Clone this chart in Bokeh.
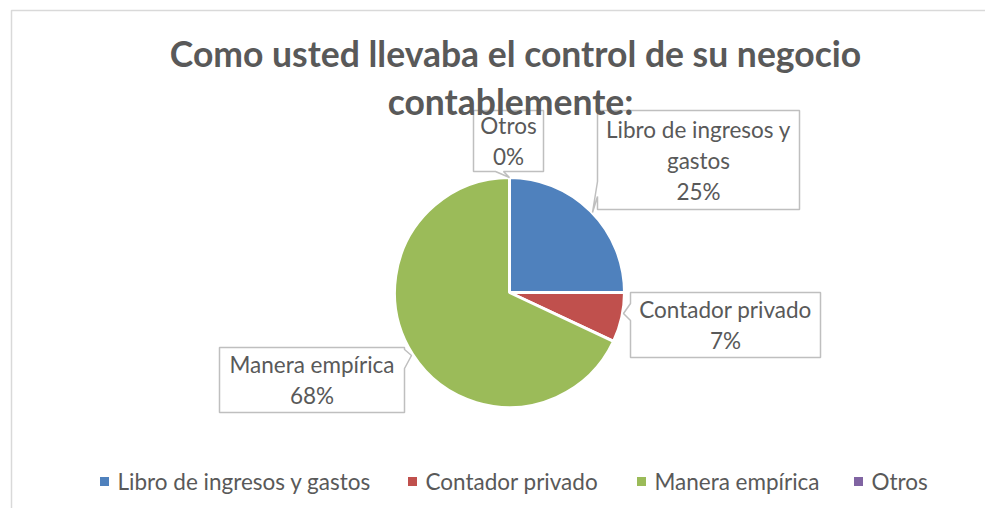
import numpy as np
from bokeh.plotting import figure
from bokeh.models import Range1d, ColumnDataSource
from bokeh.core.properties import value
from bokeh.embed import file_html
from bokeh.resources import INLINE

# ---------------- data ----------------
categories = ["Libro de ingresos y gastos", "Contador privado", "Manera empírica", "Otros"]
percent = [25, 7, 68, 0]
colors = ["#4F81BD", "#C0504D", "#9BBB59", "#8064A2"]
label_names = [["Libro de ingresos y", "gastos"], ["Contador privado"], ["Manera empírica"], ["Otros"]]
title_lines = ["Como usted llevaba el control de su negocio", "contablemente:"]

# ---------------- layout (image pixel coordinates) ----------------
W, H = 985, 508
FONT = "Lato"
TXT = "#595959"
BORDER = "#BFBFBF"

def Y(y):
    return 514 - y

p = figure(width=W, height=H, output_backend="svg", toolbar_location=None,
           x_range=Range1d(0, W), y_range=Range1d(514 - H, 514),
           min_border=0, outline_line_color=None)
p.axis.visible = False
p.grid.visible = False
p.background_fill_color = "white"
p.border_fill_color = "white"

# chart frame (left and top edges visible)
p.line([11, 11, 995], [Y(520), Y(10), Y(10)], line_color="#D9D9D9", line_width=1.5)

# pie
cx, cy, r = 509, 292, 115
frac = np.array(percent, dtype=float) / sum(percent)
cum = np.cumsum(frac)
prev = np.concatenate([[0], cum[:-1]])
start = np.pi / 2 - 2 * np.pi * prev
end = np.pi / 2 - 2 * np.pi * cum
keep = np.array(percent) > 0
src = ColumnDataSource(dict(start=start[keep], end=end[keep],
                            color=[c for c, k in zip(colors, keep) if k]))
p.wedge(x=cx, y=Y(cy), radius=r, start_angle="start", end_angle="end",
        direction="clock", fill_color="color", line_color="white",
        line_width=3, source=src)

# callout boxes: (left, top, right, bottom, pointer side, pointer polygon points)
boxes = [
    (597, 110, 799, 209, "left", [(597, 181), (592, 212), (597, 196)]),
    (630, 292, 820, 357, "left", [(630, 303), (623, 313), (630, 320)]),
    (219, 347, 404, 412, "right", [(404, 349), (411, 355), (404, 368)]),
    (473, 110, 543, 171, "bottom", [(503, 171), (509, 177), (495, 171)]),
]
line_h = 31
for i, (l, t, rr, b, side, ptr) in enumerate(boxes):
    if side == "left":
        pts = [(l, t), (rr, t), (rr, b), (l, b)] + ptr[::-1]
    elif side == "right":
        pts = [(l, t), (rr, t)] + ptr + [(rr, b), (l, b)]
    else:
        pts = [(l, t), (rr, t), (rr, b)] + ptr + [(l, b)]
    xs = [q[0] for q in pts]
    ys = [Y(q[1]) for q in pts]
    p.patch(xs, ys, fill_color="white", line_color=BORDER, line_width=1.5)
    lines = label_names[i] + [f"{percent[i]}%"]
    n = len(lines)
    mid = (t + b) / 2
    ty = [mid + (k - (n - 1) / 2) * line_h for k in range(n)]
    p.text(x=[(l + rr) / 2] * n, y=[Y(v) for v in ty], text=lines,
           text_font=value(FONT), text_font_size="22.5px", text_color=TXT,
           text_align="center", text_baseline="middle")

# title
p.text(x=[515, 510], y=[Y(53), Y(101)], text=title_lines,
       text_font=value(FONT), text_font_size="35.5px", text_font_style="bold",
       text_color=TXT, text_align="center", text_baseline="middle")

# legend
leg_sq_x = [104, 412, 641, 858]
leg_y = 481
p.rect(x=leg_sq_x, y=[Y(leg_y)] * 4, width=9, height=9, fill_color=colors, line_color=None)
p.text(x=[v + 13 for v in leg_sq_x], y=[Y(leg_y)] * 4, text=categories,
       text_font=value(FONT), text_font_size="22.5px", text_color=TXT,
       text_align="left", text_baseline="middle")

open("out.html", "w").write(file_html(p, INLINE))
